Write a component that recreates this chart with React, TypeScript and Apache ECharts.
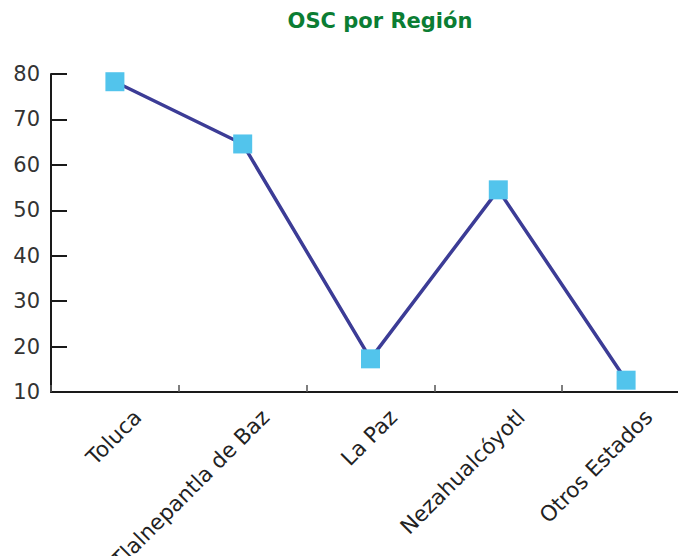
import React, { useEffect, useRef } from "react";
import * as echarts from "echarts";

const title = "OSC por Región";
const categories = ["Toluca", "Tlalnepantla de Baz", "La Paz", "Nezahualcóyotl", "Otros Estados"];
const values = [78.3, 64.6, 17.3, 54.5, 12.6];
const yMin = 10;
const yMax = 80;
const yStep = 10;

export default function App() {
  const ref = useRef<HTMLDivElement>(null);
  useEffect(() => {
    if (!ref.current) return;
    const chart = echarts.init(ref.current, undefined, { renderer: "svg" });
    chart.setOption({
      animation: false,
      backgroundColor: "#ffffff",
      title: {
        text: title,
        left: 375,
        top: 5,
        textAlign: "center",
        textStyle: {
          fontFamily: "DejaVu Sans",
          fontWeight: "bold",
          fontSize: 21,
          color: "#0b7d33",
        },
      },
      grid: {
        left: 51,
        right: -12,
        top: 74,
        bottom: 164,
        containLabel: false,
        outerBoundsMode: "none",
      },
      xAxis: {
        type: "category",
        data: categories,
        boundaryGap: true,
        axisLine: { show: true, lineStyle: { color: "#1a1a1a", width: 2 } },
        axisTick: { show: true, inside: true, length: 7, lineStyle: { color: "#555", width: 1.5 } },
        axisLabel: {
          interval: 0,
          rotate: 45,
          margin: 44,
          fontFamily: "DejaVu Sans",
          fontSize: 21.5,
          color: "#222",
          padding: [56, -32, 0, 0],
          hideOverlap: false,
        },
        splitLine: { show: false },
      },
      yAxis: {
        type: "value",
        min: yMin,
        max: yMax,
        interval: yStep,
        axisLine: { show: true, lineStyle: { color: "#1a1a1a", width: 2 } },
        axisTick: { show: true, inside: true, length: 16, lineStyle: { color: "#1a1a1a", width: 2 } },
        axisLabel: {
          margin: 11,
          fontFamily: "DejaVu Sans",
          fontSize: 21,
          color: "#333",
        },
        splitLine: { show: false },
      },
      series: [
        {
          type: "line",
          data: values,
          symbol: "rect",
          symbolSize: 19,
          lineStyle: { color: "#3c3c96", width: 3.5 },
          itemStyle: { color: "#52c4ec" },
          z: 2,
        },
      ],
    });
    return () => chart.dispose();
  }, []);
  return (
    <div
      ref={ref}
      style={{ position: "fixed", left: 0, top: 0, width: 678, height: 556, overflow: "hidden" }}
    />
  );
}
